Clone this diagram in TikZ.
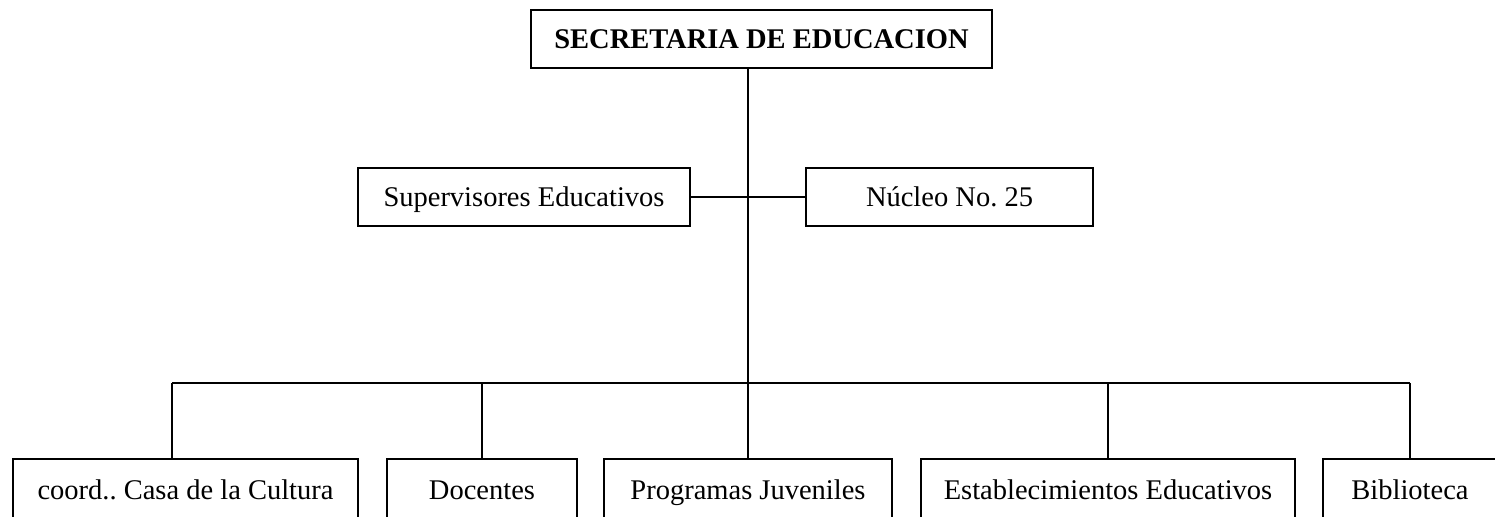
\documentclass[tikz,border=0pt]{standalone}
\usepackage{fontspec}
\setmainfont{Liberation Serif}
\frenchspacing
\begin{document}
\begin{tikzpicture}[x=0.5pt,y=-0.5pt,
  line width=1.15pt,
  orgbox/.style={draw=black,line width=1.15pt,inner sep=0pt,fill=white,
    font=\fontsize{14.25}{17}\selectfont,text height=9.43pt,text depth=0pt},
  conn/.style={draw=black,line width=1.15pt}]
\useasboundingbox (0,0) rectangle (1495,517);
\clip (0,0) rectangle (1495,517);
% nodes
\node[orgbox,minimum width=461*0.5pt,minimum height=58*0.5pt,font=\fontsize{14.25}{17}\selectfont\bfseries] (top) at (761.5,39) {SECRETARIA DE EDUCACION};
\node[orgbox,minimum width=332*0.5pt,minimum height=58*0.5pt] (sup) at (524,197) {Supervisores Educativos};
\node[orgbox,minimum width=287*0.5pt,minimum height=58*0.5pt] (nuc) at (949.5,197) {Núcleo No. 25};
\node[orgbox,minimum width=345*0.5pt,minimum height=62*0.5pt] (coord) at (185.5,490) {coord.. Casa de la Cultura};
\node[orgbox,minimum width=190*0.5pt,minimum height=62*0.5pt] (doc) at (482,490) {Docentes};
\node[orgbox,minimum width=288*0.5pt,minimum height=62*0.5pt] (prog) at (748,490) {Programas Juveniles};
\node[orgbox,minimum width=374*0.5pt,minimum height=62*0.5pt] (est) at (1108,490) {Establecimientos Educativos};
\node[orgbox,minimum width=174*0.5pt,minimum height=62*0.5pt] (bib) at (1410,490) {Biblioteca};
% bus coordinates
\coordinate (busL) at (172,383);
\coordinate (busR) at (1410,383);
% connectors
\draw[conn] (top.south -| prog.north) -- (prog.north);
\draw[conn] (sup.east) -- (nuc.west);
\draw[conn] (busL) -- (busR);
\draw[conn] (busL) -- (busL |- coord.north);
\draw[conn] (doc.north |- busL) -- (doc.north);
\draw[conn] (est.north |- busL) -- (est.north);
\draw[conn] (busR) -- (bib.north);
\end{tikzpicture}
\end{document}
